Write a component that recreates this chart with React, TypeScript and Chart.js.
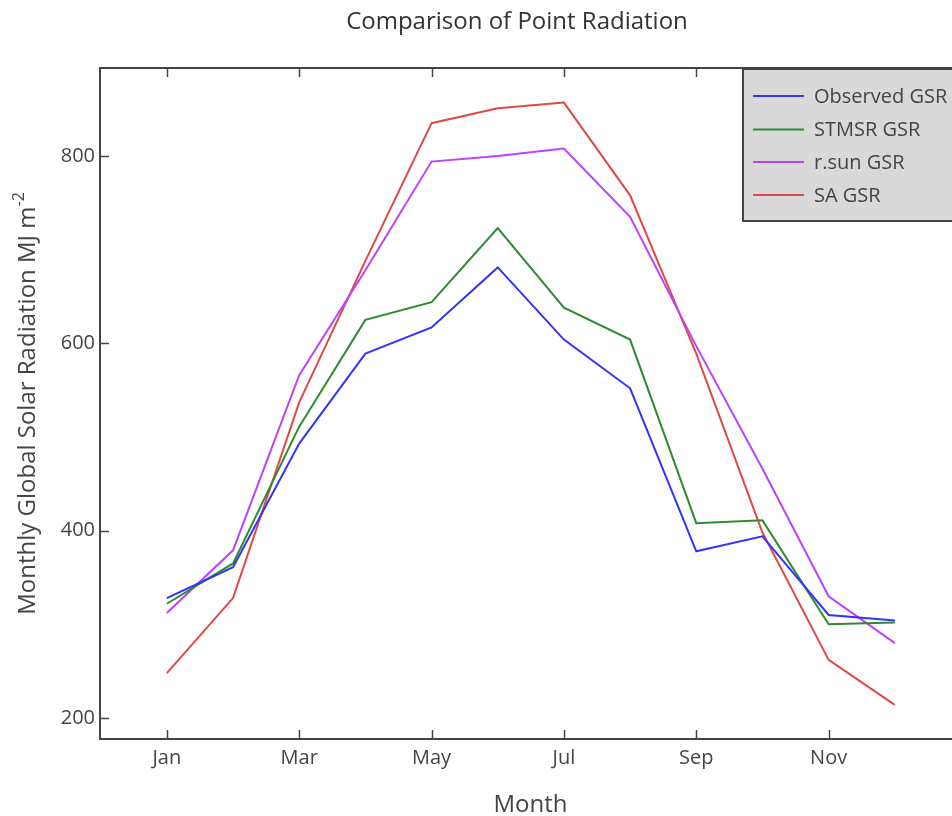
import React, { useEffect, useRef } from 'react';
import { Chart, registerables } from 'chart.js';

Chart.register(...registerables);

// ---- data ----
const months = ['Jan', 'Feb', 'Mar', 'Apr', 'May', 'Jun', 'Jul', 'Aug', 'Sep', 'Oct', 'Nov', 'Dec'];
const observedGSR = [328, 361, 493, 589, 617, 681, 604, 552, 378, 394, 310, 304];
const stmsrGSR = [322, 365, 511, 625, 644, 723, 638, 604, 408, 411, 300, 302];
const rsunGSR = [312, 379, 566, 678, 794, 800, 808, 735, 597, 466, 330, 280];
const saGSR = [248, 328, 537, 688, 835, 851, 857, 758, 589, 398, 262, 214];

const seriesNames = ['Observed GSR', 'STMSR GSR', 'r.sun GSR', 'SA GSR'];
const seriesColors = ['#3333ff', '#2e8b2e', '#bf40ff', '#e04848'];

const xTickIdx = [0, 2, 4, 6, 8, 10];
const xTickLabels = ['Jan', 'Mar', 'May', 'Jul', 'Sep', 'Nov'];
const yTickValues = [200, 400, 600, 800];

const titleText = 'Comparison of Point Radiation';
const xTitleText = 'Month';
const yTitleText = 'Monthly Global Solar Radiation MJ m';
const yTitleSup = '-2';

// ---- layout ----
const CANVAS_W = 1010;
const CANVAS_H = 816;
const PLOT_LEFT = 100;
const PLOT_TOP = 68;
const PLOT_RIGHT = 961;
const PLOT_BOTTOM = 739;
const FONT = "'Open Sans', sans-serif";
const TEXT = '#444';

const framePlugin = {
  id: 'frame',
  afterDraw(chart: any) {
    const { ctx, chartArea: a, scales } = chart;
    const xs = scales.x;
    const ys = scales.y;
    ctx.save();
    // frame
    ctx.strokeStyle = '#444';
    ctx.lineWidth = 2;
    ctx.strokeRect(a.left, a.top, a.right - a.left, a.bottom - a.top);
    // inside ticks
    ctx.lineWidth = 1.5;
    const tl = 9;
    ctx.beginPath();
    xTickIdx.forEach((v) => {
      const px = Math.round(xs.getPixelForValue(v)) + 0.5;
      ctx.moveTo(px, a.bottom);
      ctx.lineTo(px, a.bottom - tl);
      ctx.moveTo(px, a.top);
      ctx.lineTo(px, a.top + tl);
    });
    yTickValues.forEach((v) => {
      const py = Math.round(ys.getPixelForValue(v)) + 0.5;
      ctx.moveTo(a.left, py);
      ctx.lineTo(a.left + tl, py);
      ctx.moveTo(a.right, py);
      ctx.lineTo(a.right - tl, py);
    });
    ctx.stroke();

    // legend
    const lx = 743;
    const ly = 69;
    const lw = a.right - lx;
    const lh = 152;
    ctx.fillStyle = '#d9d9d9';
    ctx.fillRect(lx, ly, lw, lh);
    ctx.strokeStyle = '#444';
    ctx.lineWidth = 2;
    ctx.strokeRect(lx, ly, lw, lh);
    const rows = [96, 129.5, 162, 195];
    ctx.font = `20px ${FONT}`;
    ctx.textAlign = 'left';
    ctx.textBaseline = 'middle';
    seriesNames.forEach((name, i) => {
      ctx.strokeStyle = seriesColors[i];
      ctx.lineWidth = 2;
      ctx.beginPath();
      ctx.moveTo(753, rows[i]);
      ctx.lineTo(804, rows[i]);
      ctx.stroke();
      ctx.fillStyle = TEXT;
      ctx.fillText(name, 814, rows[i] + 1);
    });

    // chart title
    ctx.fillStyle = '#333';
    ctx.font = `24px ${FONT}`;
    ctx.textAlign = 'center';
    ctx.textBaseline = 'alphabetic';
    ctx.fillText(titleText, 517, 29);

    // x title
    ctx.fillStyle = TEXT;
    ctx.font = `24px ${FONT}`;
    ctx.fillText(xTitleText, (a.left + a.right) / 2, 812);

    // y title (rotated) with superscript
    const mainFont = `24px ${FONT}`;
    const supFont = `16px ${FONT}`;
    ctx.font = mainFont;
    const wMain = ctx.measureText(yTitleText).width;
    ctx.font = supFont;
    const wSup = ctx.measureText(yTitleSup).width;
    const total = wMain + wSup;
    const cy = (a.top + a.bottom) / 2;
    ctx.translate(35, cy);
    ctx.rotate(-Math.PI / 2);
    ctx.textAlign = 'left';
    ctx.font = mainFont;
    ctx.fillText(yTitleText, -total / 2, 0);
    ctx.font = supFont;
    ctx.fillText(yTitleSup, -total / 2 + wMain, -11);
    ctx.restore();
  },
};

export default function App() {
  const ref = useRef<HTMLCanvasElement>(null);
  useEffect(() => {
    const canvas = ref.current;
    if (!canvas) return;
    const seriesValues = [observedGSR, stmsrGSR, rsunGSR, saGSR];
    const chart = new Chart(canvas, {
      type: 'line',
      data: {
        datasets: seriesValues.map((vals, si) => ({
          label: seriesNames[si],
          data: months.map((_, i) => ({ x: i, y: vals[i] })),
          borderColor: seriesColors[si],
          backgroundColor: seriesColors[si],
          borderWidth: 2,
          pointRadius: 0,
          tension: 0,
          fill: false,
        })),
      },
      options: {
        animation: false,
        responsive: false,
        devicePixelRatio: 1,
        layout: { padding: { left: 0, top: PLOT_TOP, right: CANVAS_W - PLOT_RIGHT, bottom: 0 } },
        plugins: {
          legend: { display: false },
          title: { display: false },
          tooltip: { enabled: false },
        },
        scales: {
          x: {
            type: 'linear',
            min: -1.01,
            max: 12,
            grid: { display: false, drawTicks: false, tickLength: 0 },
            border: { display: false },
            afterBuildTicks: (s: any) => {
              s.ticks = xTickIdx.map((v) => ({ value: v }));
            },
            afterFit: (s: any) => {
              s.height = CANVAS_H - PLOT_BOTTOM;
            },
            ticks: {
              autoSkip: false,
              maxRotation: 0,
              padding: 7,
              color: TEXT,
              font: { family: FONT, size: 20 },
              callback: (v: any) => {
                const k = xTickIdx.indexOf(Number(v));
                return k >= 0 ? xTickLabels[k] : '';
              },
            },
          },
          y: {
            type: 'linear',
            min: 177.6,
            max: 893.9,
            grid: { display: false, drawTicks: false, tickLength: 0 },
            border: { display: false },
            afterBuildTicks: (s: any) => {
              s.ticks = yTickValues.map((v) => ({ value: v }));
            },
            afterFit: (s: any) => {
              s.width = PLOT_LEFT;
            },
            ticks: {
              padding: 5,
              color: TEXT,
              font: { family: FONT, size: 20 },
              callback: (v: any) => String(v),
            },
          },
        },
      },
      plugins: [framePlugin],
    });
    return () => chart.destroy();
  }, []);

  return (
    <div
      style={{
        position: 'fixed',
        left: 0,
        top: 0,
        width: 952,
        height: 816,
        overflow: 'hidden',
        background: '#fff',
      }}
    >
      <canvas
        ref={ref}
        width={CANVAS_W}
        height={CANVAS_H}
        style={{ display: 'block', width: CANVAS_W, height: CANVAS_H }}
      />
    </div>
  );
}
